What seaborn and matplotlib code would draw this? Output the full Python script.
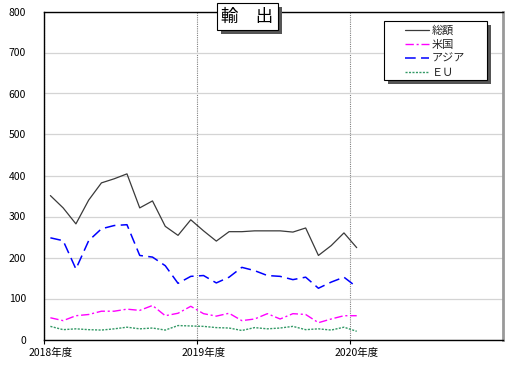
import numpy as np
import pandas as pd
import matplotlib
matplotlib.use("Agg")
import matplotlib.pyplot as plt
import matplotlib.patheffects as pe
from matplotlib.patches import Rectangle
import seaborn as sns

# ---- data ----
year_labels = ["2018年度", "2019年度", "2020年度"]
series_names = ["総額", "米国", "アジア", "ＥＵ"]
total = [351, 321, 282, 340, 382, 392, 404, 321, 338, 276, 254, 292, 265,
         240, 263, 263, 265, 265, 265, 262, 272, 205, 229, 260, 224]
usa = [53, 46, 58, 61, 69, 69, 74, 71, 83, 58, 64, 81, 63,
       57, 64, 46, 50, 63, 50, 63, 61, 41, 50, 58, 58]
asia = [248, 241, 172, 241, 270, 278, 280, 205, 201, 180, 137, 154, 156,
        138, 152, 176, 168, 156, 154, 146, 152, 125, 140, 152, 128]
eu = [32, 24, 26, 24, 23, 26, 30, 26, 28, 23, 34, 33, 32,
      29, 28, 22, 29, 26, 28, 32, 24, 26, 23, 30, 20]

n = len(total)
month = np.arange(n) + 0.5  # month index (mid-month)

sns.set_theme(style="white")
plt.rcParams["font.family"] = ["Noto Sans CJK JP", "DejaVu Sans"]

W, H = 518, 371
fig = plt.figure(figsize=(W / 100, H / 100), dpi=100)
ax = fig.add_axes([44 / W, 1 - 339.5 / H, 459.5 / W, 328 / H])

styles = {
    "総額": dict(color="#3a3a3a", linestyle="-", linewidth=0.9),
    "米国": dict(color="#FF00FF", linestyle=(0, (6, 2, 1.5, 2)), linewidth=1.0),
    "アジア": dict(color="#0000FF", linestyle=(0, (7, 3.5)), linewidth=1.1),
    "ＥＵ": dict(color="#339966", linestyle=(0, (1.5, 1)), linewidth=1.0),
}
values = {"総額": total, "米国": usa, "アジア": asia, "ＥＵ": eu}

handles = []
for name in series_names:
    df = pd.DataFrame({"month": month, "value": values[name]})
    sns.lineplot(data=df, x="month", y="value", ax=ax, label=name,
                 legend=False, **styles[name])
    handles.append(ax.lines[-1])

ax.set_xlim(0, 36)
ax.set_ylim(0, 800)
ax.set_yticks(np.arange(0, 801, 100))
ax.set_xticks([0, 12, 24])
ax.set_xticklabels([])
ax.set_xticks([0.5, 12.5, 24.5], minor=True)
ax.set_xticklabels(year_labels, minor=True)
ax.set_xlabel("")
ax.set_ylabel("")

ax.tick_params(axis="y", length=0, pad=13, labelsize=7.5, labelcolor="black")
ax.tick_params(axis="x", which="major", length=3, width=0.8, color="black",
               direction="out", bottom=True)
ax.tick_params(axis="x", which="minor", length=0, pad=6, labelsize=7.5,
               labelcolor="black")

ax.grid(axis="y", color="#d4d4d4", linewidth=0.9, linestyle="-")
ax.grid(axis="x", which="major", color="#808080", linewidth=0.8,
        linestyle=(0, (1, 1)))
ax.set_axisbelow(True)

for side in ["left", "top", "bottom"]:
    ax.spines[side].set_color("black")
    ax.spines[side].set_linewidth(1.0)
ax.spines["right"].set_color("#999999")
ax.spines["right"].set_linewidth(2.0)

shadow = [pe.SimplePatchShadow(offset=(3, -3), shadow_rgbFace="#555555",
                               alpha=1.0), pe.Normal()]

# legend frame with shadow
frame = Rectangle((384 / W, 1 - 80 / H), 103 / W, 59 / H,
                  transform=fig.transFigure, facecolor="white",
                  edgecolor="black", linewidth=0.8, zorder=3)
frame.set_path_effects(shadow)
fig.patches.append(frame)

leg = fig.legend(handles=handles, labels=series_names, loc="upper left",
                 bbox_to_anchor=(405 / W, 1 - 25 / H),
                 bbox_transform=fig.transFigure, frameon=False,
                 fontsize=8, handlelength=2.2, handletextpad=0.2,
                 labelspacing=0.38, borderpad=0, borderaxespad=0)
leg.set_zorder(5)

# title box with shadow
t = fig.text(247.5 / W, 1 - 16.5 / H, "輸　出", ha="center", va="center",
             fontsize=12.5, color="black", zorder=6,
             bbox=dict(boxstyle="square,pad=0.25", fc="white", ec="black",
                       lw=0.8))
t.get_bbox_patch().set_path_effects(shadow)

fig.savefig("out.png", dpi=100)
